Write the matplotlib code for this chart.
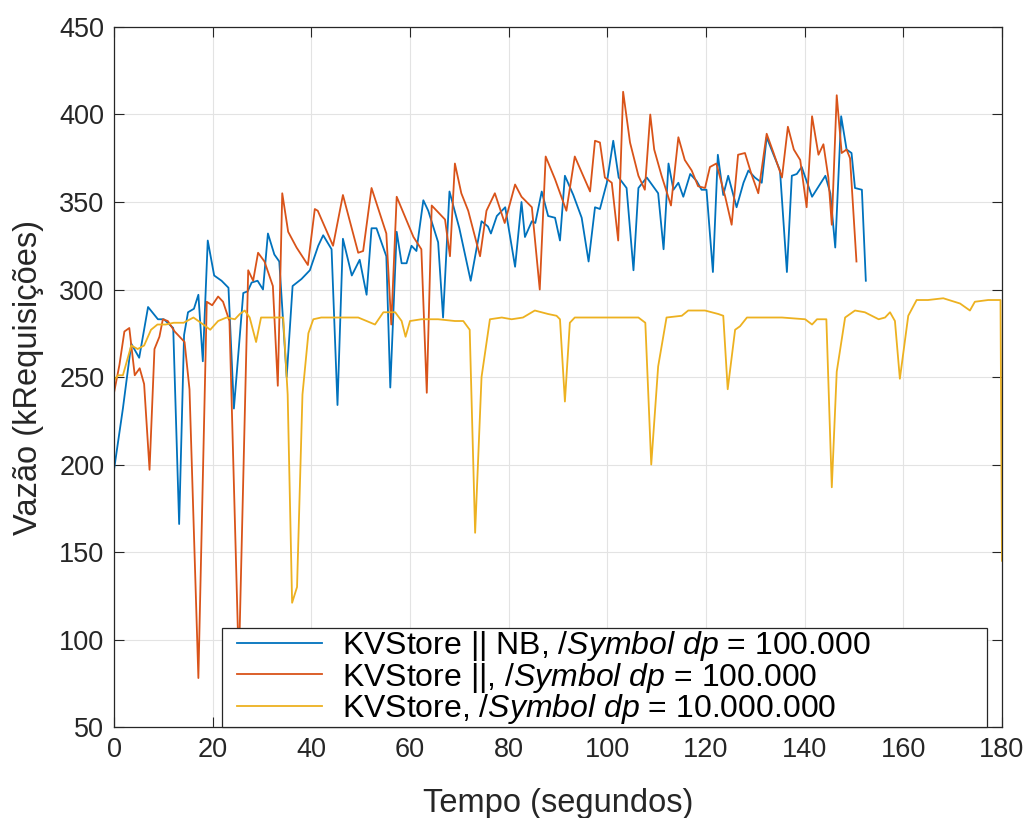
import numpy as np
import matplotlib
matplotlib.use("Agg")
import matplotlib.pyplot as plt
from matplotlib.legend_handler import HandlerLine2D

plt.rcParams['font.family'] = ['Liberation Sans', 'DejaVu Sans']
plt.rcParams['mathtext.fontset'] = 'custom'
plt.rcParams['mathtext.rm'] = 'Liberation Sans'
plt.rcParams['mathtext.it'] = 'Liberation Sans:italic'

# KVStore || NB, dp = 100.000  (blue)
t_nb = [0, 1.8, 3.5, 5.1, 6.9, 8.9, 10.1, 12.0, 13.2, 14.2, 15.0, 16.2, 17.1, 18.0, 19.0,
        20.3, 21.8, 23.2, 24.3, 26.2, 27.1, 27.9, 29.1, 30.2, 31.2, 32.5, 33.5, 35.0, 36.2,
        38.0, 39.7, 41.4, 42.4, 44.1, 45.3, 46.4, 48.2, 49.8, 51.2, 52.2, 53.2, 55.2, 56.0,
        57.3, 58.3, 59.3, 60.3, 61.3, 62.7, 63.7, 65.7, 66.7, 68.0, 70.0, 72.3, 74.5, 75.8,
        76.4, 77.6, 79.3, 81.3, 82.6, 83.3, 84.7, 85.4, 86.7, 88.0, 89.4, 90.4, 91.4, 93.1,
        94.8, 96.2, 97.5, 98.5, 99.9, 101.2, 102.3, 103.9, 105.3, 106.3, 108.0, 110.3, 111.4,
        112.4, 113.4, 114.4, 115.4, 116.8, 118.1, 119.1, 120.1, 121.4, 122.4, 123.5, 124.5,
        126.2, 127.6, 128.6, 129.9, 131.3, 132.3, 133.7, 135.0, 136.4, 137.4, 138.4, 139.4,
        141.5, 144.2, 145.2, 146.2, 147.4, 148.5, 149.5, 150.2, 151.6, 152.4]
v_nb = [197, 232, 269, 261, 290, 283, 283, 278, 166, 274, 287, 289, 297, 259, 328,
        308, 305, 301, 232, 298, 299, 304, 305, 300, 332, 320, 316, 250, 302,
        306, 311, 325, 331, 323, 234, 329, 308, 317, 297, 335, 335, 319, 244,
        333, 315, 315, 325, 322, 351, 345, 327, 284, 356, 335, 305, 339, 336,
        332, 342, 347, 313, 350, 330, 339, 338, 356, 342, 341, 328, 365, 354,
        341, 316, 347, 346, 361, 385, 364, 358, 311, 358, 364, 355, 323,
        372, 357, 361, 353, 366, 362, 357, 357, 310, 377, 354, 365,
        347, 361, 368, 364, 361, 387, 377, 368, 310, 365, 366, 370,
        353, 365, 355, 324, 399, 380, 378, 358, 357, 305]

# KVStore ||, dp = 100.000  (orange)
t_par = [0, 1.1, 2.1, 3.1, 4.2, 5.2, 6.1, 7.2, 8.2, 9.2, 9.9, 10.9, 12.3, 14.3, 15.3,
         17.1, 18.8, 19.9, 21.1, 22.1, 23.4, 25.3, 27.2, 28.2, 29.2, 30.5, 32.2, 33.2,
         34.1, 35.3, 37.0, 39.3, 40.7, 41.3, 44.4, 46.4, 49.5, 50.5, 52.2, 55.2, 56.2,
         57.3, 60.7, 62.3, 63.4, 64.4, 67.1, 68.1, 69.1, 70.4, 71.8, 74.2, 75.5, 77.2,
         79.2, 81.3, 82.6, 84.7, 86.3, 87.5, 89.4, 91.7, 93.4, 95.1, 96.5, 97.5, 98.5,
         99.5, 100.9, 102.2, 103.2, 104.6, 106.3, 107.6, 108.7, 109.5, 111.0, 112.9,
         114.4, 115.7, 117.1, 118.4, 119.8, 120.8, 122.1, 123.9, 125.2, 126.5, 127.9,
         129.2, 130.6, 132.3, 133.7, 135.4, 136.6, 137.8, 139.1, 140.4, 141.5, 142.8,
         143.8, 144.8, 145.5, 146.5, 147.5, 148.5, 149.2, 150.5]
v_par = [241, 257, 276, 278, 251, 255, 246, 197, 266, 273, 283, 282, 276, 270, 243,
         78, 293, 291, 296, 293, 282, 85, 311, 305, 321, 316, 302, 245,
         355, 333, 324, 314, 346, 345, 325, 354, 321, 322, 358, 332, 280,
         353, 330, 323, 241, 348, 340, 319, 372, 355, 345, 319, 345, 355,
         338, 360, 353, 347, 300, 376, 363, 345, 376, 365, 356, 385, 384,
         364, 361, 328, 413, 384, 365, 357, 400, 380, 365, 348,
         387, 374, 368, 359, 358, 370, 372, 353, 337, 377, 378,
         366, 355, 389, 378, 364, 393, 380, 374, 347, 399, 377,
         383, 364, 337, 411, 378, 380, 375, 316]

# KVStore, dp = 10.000.000  (yellow)
t_seq = [0, 0.8, 1.8, 3.5, 4.8, 6.1, 7.5, 8.8, 10.5, 12.1, 14.1, 16.1, 18.1, 19.5, 21.1,
         22.8, 24.5, 25.5, 26.5, 27.5, 28.8, 29.8, 32.1, 34.3, 35.2, 36.1, 37.1, 38.2,
         39.4, 40.4, 42.0, 45.4, 49.5, 51.2, 52.9, 54.6, 57.0, 58.3, 59.1, 60.0, 62.3,
         65.7, 69.1, 70.8, 72.1, 73.2, 74.5, 76.2, 78.6, 80.6, 82.9, 85.3, 88.0, 89.7,
         90.4, 91.4, 92.4, 93.4, 96.8, 102.2, 106.3, 107.7, 108.9, 110.3, 112.0, 115.1,
         116.4, 119.8, 122.5, 123.5, 124.4, 125.9, 126.9, 128.3, 135.4, 140.1, 141.5,
         142.5, 144.4, 145.5, 146.5, 148.2, 150.2, 152.2, 155.0, 156.3, 157.3, 158.3,
         159.3, 161.0, 162.7, 165.0, 168.1, 171.5, 173.5, 174.5, 177.2, 179.7, 180.0]
v_seq = [248, 251, 251, 268, 266, 268, 277, 280, 280, 281, 281, 284, 280, 277, 282,
         284, 283, 286, 288, 284, 270, 284, 284, 284, 240, 121, 130, 240,
         275, 283, 284, 284, 284, 282, 280, 287, 287, 282, 273, 282, 283,
         283, 282, 282, 277, 161, 250, 283, 284, 283, 284, 288, 286, 285,
         283, 236, 281, 284, 284, 284, 284, 281, 200, 256, 284, 285,
         288, 288, 286, 285, 243, 277, 279, 284, 284, 283, 280,
         283, 283, 187, 253, 284, 288, 287, 283, 284, 287, 282,
         249, 285, 294, 294, 295, 292, 288, 293, 294, 294, 145]

labels = [r'KVStore || NB, $\mathit{/Symbol\ dp}$ = 100.000',
          r'KVStore ||, $\mathit{/Symbol\ dp}$ = 100.000',
          r'KVStore, $\mathit{/Symbol\ dp}$ = 10.000.000']
colors = ['#0072BD', '#D95319', '#EDB120']


# legend line starts a bit inside its box (the box has almost no vertical padding)
class ShiftedLine(HandlerLine2D):
    def create_artists(self, legend, orig_handle, xdescent, ydescent, width,
                       height, fontsize, trans):
        arts = super().create_artists(legend, orig_handle, xdescent, ydescent,
                                      width, height, fontsize, trans)
        x = np.asarray(arts[0].get_xdata(), dtype=float)
        arts[0].set_xdata(np.linspace(x[0] + 10, x[-1], len(x)))
        return arts


fig = plt.figure(figsize=(10.3, 8.18), dpi=100)
ax = fig.add_axes([0.1107, 0.1112, 0.8621, 0.8558])

ax.plot(t_nb, v_nb, color=colors[0], lw=1.3, label=labels[0])
ax.plot(t_par, v_par, color=colors[1], lw=1.3, label=labels[1])
ax.plot(t_seq, v_seq, color=colors[2], lw=1.3, label=labels[2])

ax.set_xlim(0, 180)
ax.set_ylim(50, 450)
ax.set_xticks(np.arange(0, 181, 20))
ax.set_yticks(np.arange(50, 451, 50))
ax.grid(True, color='#e3e3e3', lw=0.8)
ax.set_axisbelow(True)
ax.tick_params(direction='in', length=7, width=0.8, top=True, right=True,
               labelsize=19.5, colors='#262626', pad=7)
for s in ax.spines.values():
    s.set_color('#262626')
    s.set_linewidth(0.9)

ax.set_xlabel('Tempo (segundos)', fontsize=23.5, color='#262626', labelpad=18)
ax.set_ylabel('Vazão (kRequisições)', fontsize=23.5, color='#262626', labelpad=11)

leg = ax.legend(loc='lower left', bbox_to_anchor=(0.1216, 0.0, 0.8615, 0.146),
                mode='expand', fontsize=23, handlelength=3.1, handletextpad=0.62,
                labelspacing=-0.08, borderaxespad=0, borderpad=0.03,
                fancybox=False, framealpha=1, edgecolor='#262626',
                handler_map={plt.Line2D: ShiftedLine()})
leg.get_frame().set_linewidth(0.9)

fig.savefig('out.png', dpi=100)
